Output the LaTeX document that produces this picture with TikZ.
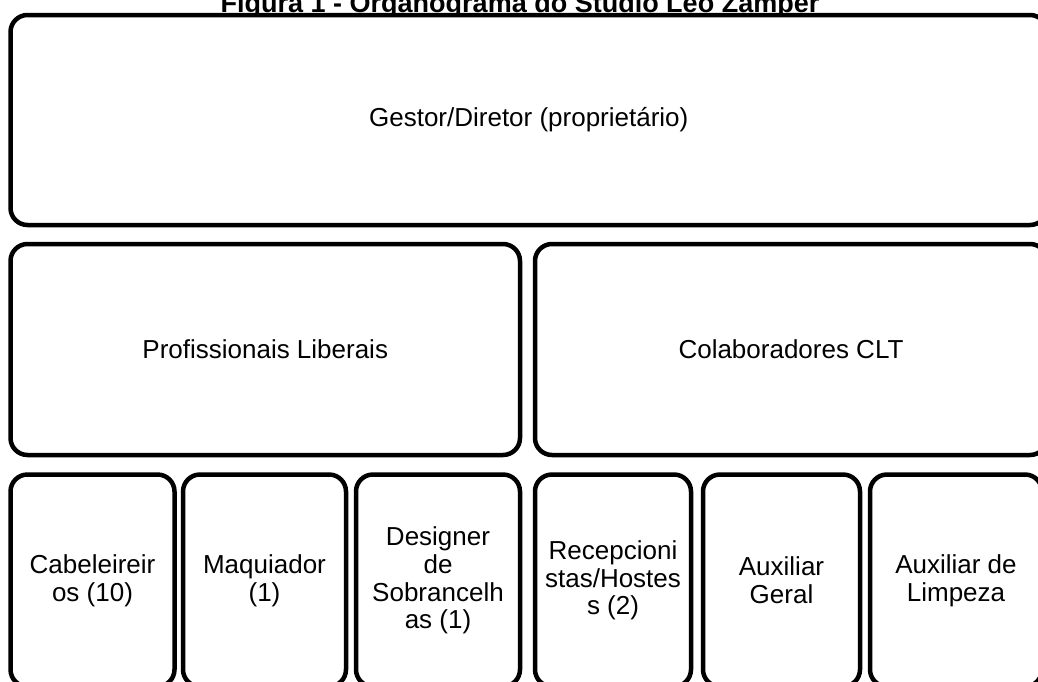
\documentclass[tikz,border=0pt]{standalone}
\usepackage{fontspec}
\setmainfont{Liberation Sans}
\usetikzlibrary{positioning}

\begin{document}
\begin{tikzpicture}[
  x=1pt, y=-1pt,
  font=\fontsize{26}{27.7}\selectfont,
  titulo/.style={font=\fontsize{27}{30}\selectfont\bfseries, anchor=base, inner sep=0pt},
  caixa/.style={draw, line width=4.5pt, rounded corners=17pt, fill=white, align=center,
    inner sep=0pt, outer sep=0pt, minimum height=211pt},
  cargo/.style={caixa, minimum height=212pt}
]
\useasboundingbox (0,0) rectangle (1038,681);
\clip (0,0) rectangle (1038,681);

\node[titulo] (fig) at (520,12) {Figura 1 - Organograma do Studio Leo Zamper};

\node[caixa, anchor=north west, minimum width=1036.5pt, minimum height=210pt] (gestor) at (10.5,15) {Gestor/Diretor (propriet\'ario)};

\node[caixa, below=19pt of gestor.south west, anchor=north west, minimum width=509.5pt] (liberais) {Profissionais Liberais};
\node[caixa, right=15pt of liberais.north east, anchor=north west, minimum width=512pt] (clt) {Colaboradores CLT};

\node[cargo, below=19.5pt of liberais.south west, anchor=north west, minimum width=164pt] (cab) {Cabeleireir\\os (10)};
\node[cargo, right=8.5pt of cab.north east, anchor=north west, minimum width=163pt] (maq) {Maquiador\\(1)};
\node[cargo, right=10pt of maq.north east, anchor=north west, minimum width=164pt] (sobr) {Designer\\de\\Sobrancelh\\as (1)};
\node[cargo, right=15pt of sobr.north east, anchor=north west, minimum width=156pt] (recep) {Recepcioni\\stas/Hostes\\s (2)};
\node[cargo, right=12pt of recep.north east, anchor=north west, minimum width=157pt] (aux) {Auxiliar\\Geral};
\node[cargo, right=10pt of aux.north east, anchor=north west, minimum width=172pt] (limp) {Auxiliar de\\Limpeza};
\end{tikzpicture}
\end{document}
